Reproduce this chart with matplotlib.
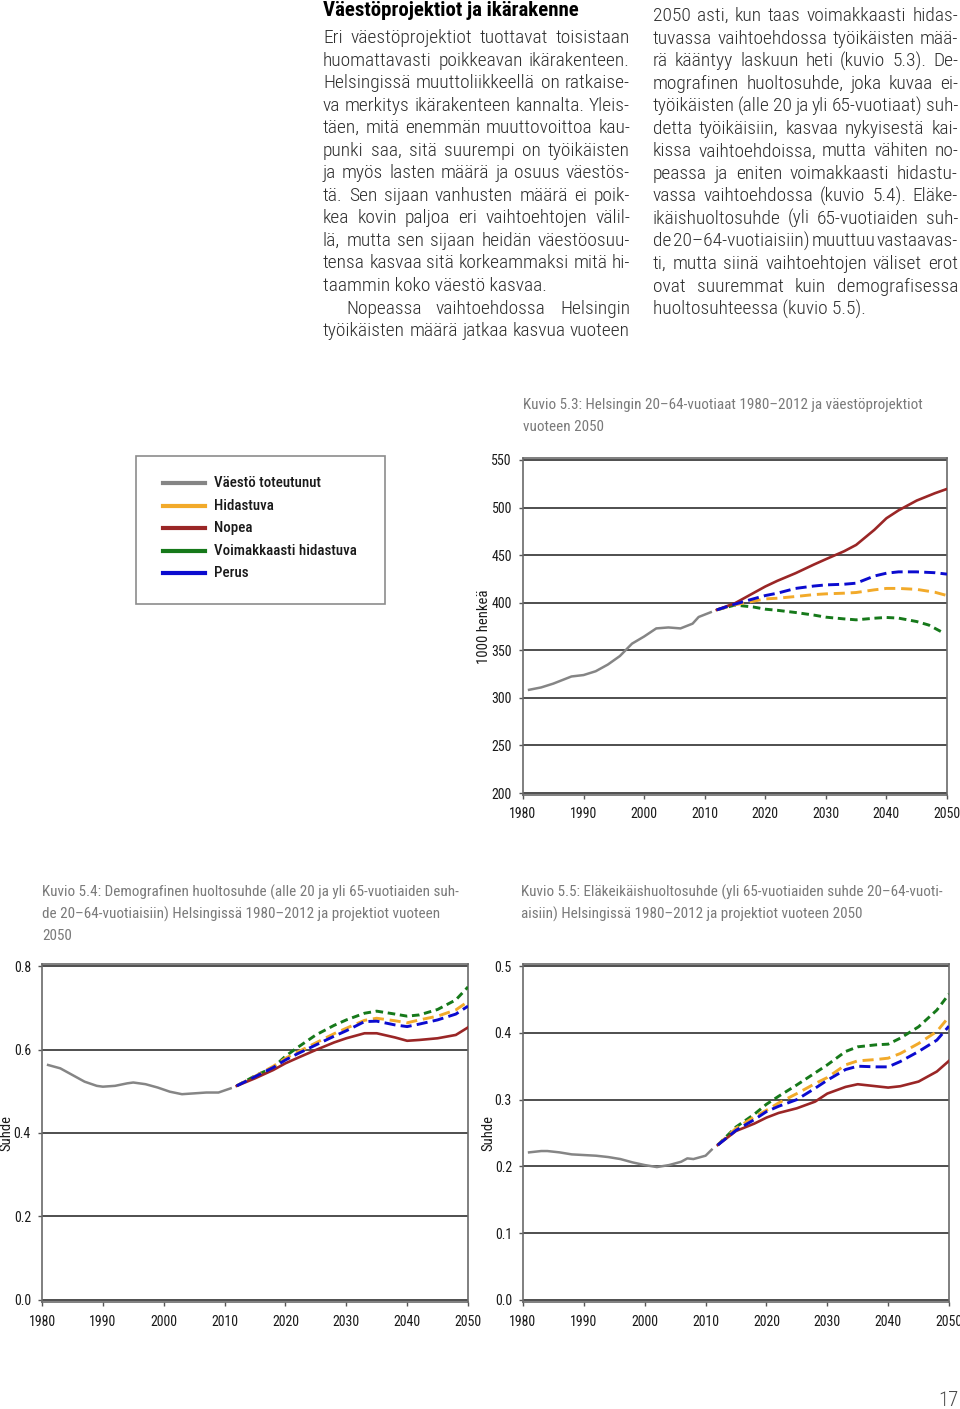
import numpy as np
import matplotlib.pyplot as plt
from matplotlib.lines import Line2D
from matplotlib.patches import Rectangle

NARROW = ['Roboto Condensed', 'DejaVu Sans']
TXT = '#2e2e2e'
CAP = '#7a7a7a'

# --- data -------------------------------------------------------------
series = ['Väestö toteutunut', 'Hidastuva', 'Nopea', 'Voimakkaasti hidastuva', 'Perus']
colors = {'Väestö toteutunut': '#858585', 'Hidastuva': '#f2aa2a', 'Nopea': '#9a2626',
          'Voimakkaasti hidastuva': '#16791a', 'Perus': '#0b0bcf'}

proj_years = [2012, 2015, 2018, 2020, 2022, 2025, 2028, 2030, 2033, 2035, 2038, 2040, 2042, 2045, 2048, 2050]

# Kuvio 5.3  (1000 henkeä)
act_years_53 = [1981, 1983, 1985, 1987, 1988, 1990, 1992, 1994, 1996, 1997, 1998, 2000, 2002, 2004, 2006, 2008, 2009, 2011]
act_53 = [308.5, 311, 315, 320, 322.5, 324, 328, 335, 344, 350.5, 357, 364.5, 373, 374, 373, 378, 385, 390]
nopea_53 = [392.5, 399.5, 410, 417, 423, 431, 440, 445.7, 454, 460.7, 476.5, 488.7, 497, 507.3, 515, 519.5]
perus_53 = [392.5, 398.5, 404, 407.5, 410, 415, 417.5, 418.7, 419.4, 420.5, 428, 431, 432.4, 432.4, 431.5, 430]
hidas_53 = [392.5, 397.8, 401.5, 404, 404.7, 406.5, 408.5, 409.3, 410, 410.7, 413.5, 415, 415, 414, 411, 407.5]
voim_years_53 = [2012, 2015, 2018, 2020, 2022, 2025, 2028, 2030, 2033, 2035, 2038, 2040, 2042, 2045, 2047, 2049]
voim_53 = [392.5, 397.5, 395.5, 393.2, 392, 389.7, 387, 384.8, 383, 382, 383.7, 384.5, 383.8, 380.2, 376.5, 369.7]

# Kuvio 5.4  demografinen huoltosuhde
act_years_54 = [1981, 1983, 1985, 1987, 1989, 1990, 1992, 1994, 1995, 1997, 1999, 2001, 2003, 2005, 2007, 2009, 2011]
act_54 = [0.563, 0.555, 0.539, 0.523, 0.513, 0.511, 0.513, 0.519, 0.521, 0.517, 0.509, 0.499, 0.493, 0.495, 0.497, 0.497, 0.507]
nopea_54 = [0.513, 0.531, 0.551, 0.567, 0.580, 0.599, 0.617, 0.627, 0.639, 0.639, 0.629, 0.621, 0.623, 0.627, 0.635, 0.653]
perus_54 = [0.513, 0.535, 0.557, 0.575, 0.590, 0.611, 0.632, 0.645, 0.667, 0.668, 0.659, 0.655, 0.661, 0.671, 0.685, 0.704]
hidas_54 = [0.513, 0.536, 0.560, 0.579, 0.594, 0.616, 0.638, 0.651, 0.670, 0.675, 0.669, 0.664, 0.671, 0.680, 0.695, 0.715]
voim_54 = [0.513, 0.537, 0.557, 0.584, 0.605, 0.635, 0.658, 0.671, 0.687, 0.692, 0.685, 0.680, 0.683, 0.696, 0.719, 0.750]

# Kuvio 5.5  eläkeikäishuoltosuhde
act_years_55 = [1981, 1983, 1984, 1986, 1988, 1990, 1992, 1994, 1996, 1998, 2000, 2002, 2004, 2006, 2007, 2008, 2010, 2011]
act_55 = [0.221, 0.223, 0.223, 0.221, 0.218, 0.217, 0.216, 0.214, 0.211, 0.206, 0.202, 0.199, 0.202, 0.207, 0.212, 0.211, 0.216, 0.225]
nopea_55 = [0.232, 0.253, 0.264, 0.273, 0.280, 0.287, 0.297, 0.309, 0.319, 0.323, 0.320, 0.318, 0.320, 0.327, 0.342, 0.358]
perus_55 = [0.232, 0.254, 0.270, 0.282, 0.290, 0.300, 0.317, 0.329, 0.345, 0.350, 0.349, 0.349, 0.357, 0.372, 0.389, 0.410]
hidas_55 = [0.232, 0.257, 0.274, 0.284, 0.295, 0.309, 0.324, 0.333, 0.352, 0.358, 0.360, 0.362, 0.369, 0.384, 0.402, 0.424]
voim_55 = [0.232, 0.259, 0.278, 0.293, 0.305, 0.322, 0.340, 0.352, 0.372, 0.379, 0.382, 0.383, 0.392, 0.409, 0.434, 0.458]

col1 = [
    "Eri väestöprojektiot tuottavat toisistaan",
    "huomattavasti poikkeavan ikärakenteen.",
    "Helsingissä muuttoliikkeellä on ratkaise-",
    "va merkitys ikärakenteen kannalta. Yleis-",
    "täen, mitä enemmän muuttovoittoa kau-",
    "punki saa, sitä suurempi on työikäisten",
    "ja myös lasten määrä ja osuus väestös-",
    "tä. Sen sijaan vanhusten määrä ei poik-",
    "kea kovin paljoa eri vaihtoehtojen välil-",
    "lä, mutta sen sijaan heidän väestöosuu-",
    "tensa kasvaa sitä korkeammaksi mitä hi-",
    "taammin koko väestö kasvaa.",
    "Nopeassa vaihtoehdossa Helsingin",
    "työikäisten määrä jatkaa kasvua vuoteen",
]
col2 = [
    "2050 asti, kun taas voimakkaasti hidas-",
    "tuvassa vaihtoehdossa työikäisten mää-",
    "rä kääntyy laskuun heti (kuvio 5.3). De-",
    "mografinen huoltosuhde, joka kuvaa ei-",
    "työikäisten (alle 20 ja yli 65-vuotiaat) suh-",
    "detta työikäisiin, kasvaa nykyisestä kai-",
    "kissa vaihtoehdoissa, mutta vähiten no-",
    "peassa ja eniten voimakkaasti hidastu-",
    "vassa vaihtoehdossa (kuvio 5.4). Eläke-",
    "ikäishuoltosuhde (yli 65-vuotiaiden suh-",
    "de 20–64-vuotiaisiin) muuttuu vastaavas-",
    "ti, mutta siinä vaihtoehtojen väliset erot",
    "ovat suuremmat kuin demografisessa",
    "huoltosuhteessa (kuvio 5.5).",
]

# --- figure -------------------------------------------------------------
W, H = 960, 1409
fig = plt.figure(figsize=(9.6, 14.09), dpi=100)
fig.patch.set_facecolor('white')
r = fig.canvas.get_renderer()


def fx(px):
    return px / W


def fy(py):
    return 1 - py / H


def put_line(text, x0, x1, y, justify=True, size=14, indent=0):
    kw = dict(fontsize=size, family=NARROW, weight='light', va='center', ha='left', color=TXT)
    if not justify:
        fig.text(fx(x0 + indent), fy(y), text, **kw)
        return
    words = text.split()
    arts = [fig.text(fx(x0), fy(y), w, **kw) for w in words]
    ws = [a.get_window_extent(r).width for a in arts]
    gap = (x1 - x0 - indent - sum(ws)) / (len(ws) - 1)
    x = x0 + indent
    for a, w in zip(arts, ws):
        a.set_x(fx(x))
        x += w + gap


fig.text(fx(323), fy(10), "Väestöprojektiot ja ikärakenne", fontsize=15,
         family=NARROW, weight='bold', va='center', ha='left', color='black')
for i, line in enumerate(col1):
    y = 38 + i * 22.55
    put_line(line, 323, 630, y, justify=i != 11, indent=23 if i == 12 else 0)
for i, line in enumerate(col2):
    y = 16 + i * 22.55
    put_line(line, 653, 958, y, justify=i != 13)


def setup(ax, x0, x1, ytop, ybot, ylim, yticks, fmt, ylabel, ylab_x):
    ax.set_position([fx(x0), fy(ybot), (x1 - x0) / W, (ybot - ytop) / H])
    ax.set_xlim(1980, 2050)
    ax.set_ylim(*ylim)
    ax.set_xticks(range(1980, 2051, 10))
    ax.set_yticks(yticks)
    ax.set_yticklabels([fmt.format(v) for v in yticks])
    for t in ax.get_xticklabels() + ax.get_yticklabels():
        t.set_family(NARROW)
        t.set_fontsize(10)
        t.set_color('#1a1a1a')
    ax.tick_params(length=3, width=1, color='#555555', pad=5)
    ax.tick_params(axis='x', pad=6)
    for s in ax.spines.values():
        s.set_color('#6a6a6a')
        s.set_linewidth(1.2)
    ax.yaxis.grid(True, color='#1e1e1e', linewidth=1.1)
    ax.set_axisbelow(True)
    fig.text(fx(ylab_x), fy((ytop + ybot) / 2), ylabel, rotation=90, fontsize=10.5,
             family=NARROW, va='center', ha='center', color='#1a1a1a')


def draw(ax, ay, av, hid, nop, voim, per, voim_years=proj_years):
    ax.plot(ay, av, color=colors['Väestö toteutunut'], lw=1.8, zorder=3)
    ax.plot(voim_years, voim, color=colors['Voimakkaasti hidastuva'], lw=2.1,
            dashes=(2.6, 1.6), zorder=4)
    ax.plot(proj_years, hid, color=colors['Hidastuva'], lw=2.1, dashes=(3.8, 2.0), zorder=4)
    ax.plot(proj_years, nop, color=colors['Nopea'], lw=1.9, zorder=5)
    ax.plot(proj_years, per, color=colors['Perus'], lw=2.1, dashes=(3.8, 1.8), zorder=5)


ax1 = fig.add_axes([0, 0, 1, 1])
setup(ax1, 523, 947, 458, 795, (198, 552), list(range(200, 551, 50)), '{:d}',
      '1000 henkeä', 484)
draw(ax1, act_years_53, act_53, hidas_53, nopea_53, voim_53, perus_53, voim_years_53)

ax2 = fig.add_axes([0, 0, 1, 1])
setup(ax2, 42, 468, 964, 1302, (-0.005, 0.805), [0.0, 0.2, 0.4, 0.6, 0.8], '{:.1f}',
      'Suhde', 6)
draw(ax2, act_years_54, act_54, hidas_54, nopea_54, voim_54, perus_54)

ax3 = fig.add_axes([0, 0, 1, 1])
setup(ax3, 523, 949, 964, 1302, (-0.003, 0.503), [0.0, 0.1, 0.2, 0.3, 0.4, 0.5], '{:.1f}',
      'Suhde', 488)
draw(ax3, act_years_55, act_55, hidas_55, nopea_55, voim_55, perus_55)

# captions
cap_kw = dict(fontsize=10.9, family=NARROW, va='center', ha='left', color=CAP)
fig.text(fx(523), fy(405), "Kuvio 5.3: Helsingin 20–64-vuotiaat 1980–2012 ja väestöprojektiot", **cap_kw)
fig.text(fx(523), fy(427), "vuoteen 2050", **cap_kw)
fig.text(fx(42), fy(892), "Kuvio 5.4: Demografinen huoltosuhde (alle 20 ja yli 65-vuotiaiden suh-", **cap_kw)
fig.text(fx(42), fy(914), "de 20–64-vuotiaisiin) Helsingissä 1980–2012 ja projektiot vuoteen", **cap_kw)
fig.text(fx(42), fy(936), "2050", **cap_kw)
fig.text(fx(521), fy(892), "Kuvio 5.5: Eläkeikäishuoltosuhde (yli 65-vuotiaiden suhde 20–64-vuoti-", **cap_kw)
fig.text(fx(521), fy(914), "aisiin) Helsingissä 1980–2012 ja projektiot vuoteen 2050", **cap_kw)

# legend box
fig.add_artist(Rectangle((fx(136), fy(604)), (385 - 136) / W, (604 - 456) / H,
                         transform=fig.transFigure, facecolor='white',
                         edgecolor='#8c8c8c', linewidth=1.2))
for i, name in enumerate(series):
    y = 483 + i * 22.5
    fig.add_artist(Line2D([fx(163), fx(205)], [fy(y), fy(y)], transform=fig.transFigure,
                          color=colors[name], linewidth=3))
    fig.text(fx(214), fy(y), name, fontsize=10.8, family=NARROW, weight='medium',
             va='center', ha='left', color='#1a1a1a')

fig.text(fx(948), fy(1400), "17", fontsize=15, family=NARROW, weight='light',
         va='center', ha='center', color='#4a4a4a')

fig.savefig('out.png', dpi=100)
